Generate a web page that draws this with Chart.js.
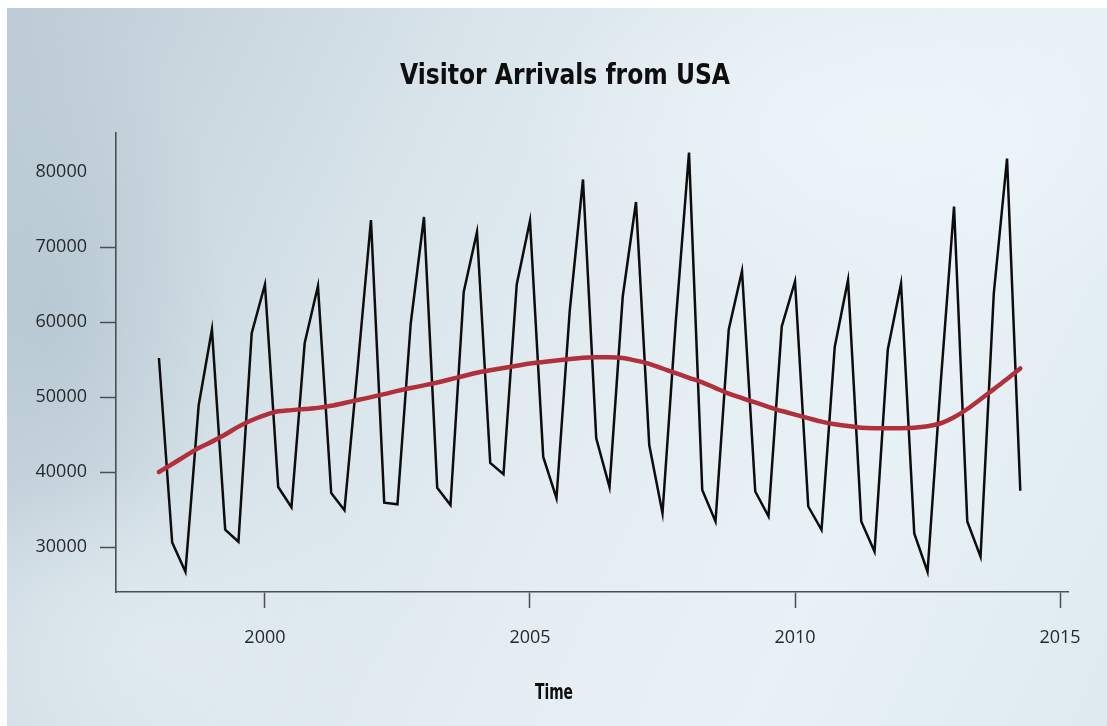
<!DOCTYPE html>
<html>
<head>
<meta charset="utf-8">
<script src="https://cdn.jsdelivr.net/npm/chart.js@4.4.1/dist/chart.umd.min.js"></script>
<style>
  html, body { margin: 0; padding: 0; background: #ffffff; }
  #wrap { position: relative; width: 1107px; height: 726px; overflow: hidden; }
  #bg {
    position: absolute; left: 7px; top: 8px; width: 1100px; height: 718px;
    background:
      radial-gradient(ellipse 520px 260px at 880px 120px, rgba(238,246,250,0.85), rgba(238,246,250,0) 70%),
      radial-gradient(ellipse 380px 260px at 150px 640px, rgba(226,236,241,0.8), rgba(226,236,241,0) 70%),
      radial-gradient(ellipse 260px 420px at 40px 300px, rgba(178,196,207,0.7), rgba(178,196,207,0) 70%),
      linear-gradient(115deg, #bccbd5 0%, #ccd9e1 18%, #dbe6ec 36%, #e3edf2 55%, #e7f1f6 75%, #dfeaf0 100%);
  }
  canvas { position: absolute; left: 0; top: 0; }
</style>
</head>
<body>
<div id="wrap">
  <div id="bg"></div>
  <canvas id="c" width="1107" height="726"></canvas>
</div>
<script>
// ---- data (quarterly, 1998 Q1 .. 2014 Q2) ----
const startYear = 1998;
const arrivals = [
  55200, 30600, 26700, 48900,
  59000, 32300, 30700, 58500,
  65000, 38000, 35300, 57200,
  64800, 37200, 34900, 54000,
  73600, 35900, 35700, 59800,
  74000, 37900, 35600, 64000,
  72000, 41200, 39700, 65000,
  73500, 42000, 36500, 61500,
  79000, 44500, 38000, 63400,
  76000, 43600, 34500, 60000,
  82600, 37600, 33400, 59000,
  66800, 37400, 34100, 59400,
  65400, 35400, 32300, 56700,
  65600, 33400, 29400, 56300,
  65100, 31800, 26700, 52000,
  75400, 33400, 28700, 63800,
  81800, 37500
];
const trend = [
  40000, 41050, 42150, 43200, 44050, 45000, 46050, 46900, 47580, 48090,
  48250, 48400, 48550, 48830, 49200, 49600, 49980, 50380, 50820, 51190,
  51550, 51930, 52370, 52800, 53240, 53570, 53870, 54170, 54470, 54670,
  54870, 55070, 55240, 55300, 55300, 55200, 54850, 54420, 53800, 53180,
  52560, 51960, 51190, 50450, 49860, 49270, 48690, 48130, 47650, 47180,
  46720, 46370, 46140, 45910, 45850, 45850, 45850, 45900, 46100, 46500,
  47300, 48400, 49700, 51050, 52400, 53800
];
const xTicks = [2000, 2005, 2010, 2015];
const yTicks = [30000, 40000, 50000, 60000, 70000, 80000];
const titleText = 'Visitor Arrivals from USA';
const xTitle = 'Time';

const times = arrivals.map((_, i) => startYear + i / 4);
const arrPts = arrivals.map((v, i) => ({ x: times[i], y: v }));
const trendPts = trend.map((v, i) => ({ x: times[i], y: v }));

const axisColor = '#4a4f53';
const labelFont = { family: '"Open Sans", "DejaVu Sans", sans-serif', size: 18 };

const textPlugin = {
  id: 'texts',
  afterDraw(chart) {
    const ctx = chart.ctx;
    ctx.save();
    ctx.fillStyle = '#0e0e0e';
    ctx.textAlign = 'center';
    ctx.textBaseline = 'middle';
    // title
    ctx.font = 'bold 28px "DejaVu Sans Condensed", "DejaVu Sans", sans-serif';
    let w = ctx.measureText(titleText).width;
    let target = 330;
    ctx.save();
    ctx.translate(565, 77);
    ctx.scale(target / w, 1);
    ctx.fillText(titleText, 0, 0);
    ctx.restore();
    // x axis title
    ctx.font = 'bold 22px "DejaVu Sans Condensed", "DejaVu Sans", sans-serif';
    w = ctx.measureText(xTitle).width;
    target = 38;
    ctx.save();
    ctx.translate(554, 693);
    ctx.scale(target / w, 1);
    ctx.fillText(xTitle, 0, 0);
    ctx.restore();
    ctx.restore();
  }
};

new Chart(document.getElementById('c'), {
  type: 'line',
  data: {
    datasets: [
      {
        label: 'trend',
        data: trendPts,
        borderColor: '#b0303b',
        borderWidth: 4.5,
        pointRadius: 0,
        tension: 0.4,
        cubicInterpolationMode: 'monotone',
        borderCapStyle: 'round',
        fill: false
      },
      {
        label: 'arrivals',
        data: arrPts,
        borderColor: '#0d0d0d',
        borderWidth: 2.5,
        pointRadius: 0,
        tension: 0,
        borderJoinStyle: 'miter',
        fill: false
      }
    ]
  },
  options: {
    responsive: false,
    animation: false,
    devicePixelRatio: 1,
    layout: { padding: { left: 0, right: 39, top: 133, bottom: 0 } },
    plugins: {
      legend: { display: false },
      title: { display: false },
      tooltip: { enabled: false }
    },
    scales: {
      x: {
        type: 'linear',
        min: 1997.19,
        max: 2015.15,
        afterBuildTicks(scale) { scale.ticks = xTicks.map(v => ({ value: v })); },
        afterFit(scale) { scale.height = 134; },
        ticks: {
          color: '#262a2d',
          font: labelFont,
          padding: 19,
          maxRotation: 0,
          autoSkip: false,
          callback: v => String(v)
        },
        grid: {
          drawOnChartArea: false,
          drawTicks: true,
          tickLength: 16,
          tickWidth: 1.5,
          color: axisColor
        },
        border: { display: true, color: axisColor, width: 1.6 }
      },
      y: {
        type: 'linear',
        min: 24000,
        max: 85200,
        afterBuildTicks(scale) { scale.ticks = yTicks.map(v => ({ value: v })); },
        afterFit(scale) { scale.width = 116; },
        ticks: {
          color: '#262a2d',
          font: labelFont,
          padding: 13,
          autoSkip: false,
          callback: v => String(v)
        },
        grid: {
          drawOnChartArea: false,
          drawTicks: true,
          tickLength: 16,
          tickWidth: 1.5,
          tickColor: ctx => (ctx.tick && ctx.tick.value === 80000) ? 'rgba(0,0,0,0)' : axisColor,
          color: axisColor
        },
        border: { display: true, color: axisColor, width: 1.6 }
      }
    }
  },
  plugins: [textPlugin]
});
</script>
</body>
</html>
